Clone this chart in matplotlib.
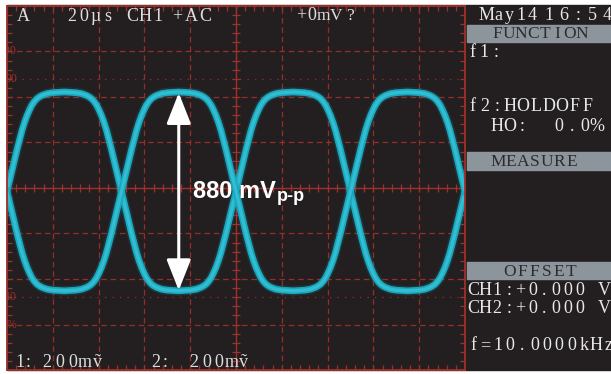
import numpy as np
import matplotlib.pyplot as plt
from matplotlib.patches import Rectangle

W, H = 611, 374

# screen scale: 20 us/div (10 div), 200 mV/div (8 div)
t_span_us = (0, 200)
v_span_mv = (-800, 800)

# one 50 us half cycle of the waveform
lobe_t = [0, 2.2, 4.4, 6.6, 7.7, 8.8, 9.9, 10.9, 12, 13.1, 14.2, 15.3,
          17.5, 20, 25, 30, 32.5, 34.7, 35.8, 36.9, 38, 39.1, 40.1,
          41.2, 42.3, 43.4, 45.6, 47.8, 50]
up_v = [-15, 77, 170, 255, 290, 320, 345, 365, 381, 393, 401, 407,
        415, 419, 422, 419, 415, 407, 401, 393, 381, 365, 345,
        320, 290, 255, 170, 77, -15]
down_v = [-15, -107, -200, -285, -320, -350, -375, -395, -411, -423, -431, -437,
          -445, -449, -452, -449, -445, -437, -431, -423, -411, -395, -375,
          -350, -320, -285, -200, -107, -15]
lobe_len_us = 50
trace_a = ['up', 'down', 'up', 'down']
trace_b = ['down', 'up', 'down', 'up']

vpp_at_us = 75
vpp_top, vpp_bottom = 418, -450

grid_t = [20, 40, 60, 80, 120, 140, 160, 180]
grid_v = [-600, -400, -200, 200, 400, 600]
level_v = [-480, 480]
level_labels = [('100', 600), ('90', 480), ('10', -480), ('0%', -600)]

RED = '#a0302a'
BG = '#231f20'
CYAN = '#17a8bf'
SERIF = ['Liberation Serif', 'DejaVu Serif']


def build(pattern):
    ts, vs = [], []
    for k, kind in enumerate(pattern):
        ts.extend(np.array(lobe_t) + k * lobe_len_us)
        vs.extend(up_v if kind == 'up' else down_v)
    return ts, vs


def spaced(ax, x0, y, s, pitch, size=13, color='#e8e8e8'):
    # bitmap-like fixed pitch lettering
    for i, ch in enumerate(s):
        if ch != ' ':
            ax.text(x0 + i * pitch, y, ch, ha='center', va='baseline',
                    fontsize=size, family=SERIF, color=color)


fig = plt.figure(figsize=(W / 100, H / 100), dpi=100)
fig.patch.set_facecolor('white')
fig.add_artist(Rectangle((7 / W, 1 - 370 / H), 604 / W, 365 / H,
                         transform=fig.transFigure, color=BG, zorder=-1))

# oscilloscope screen
ax = fig.add_axes([7 / W, 1 - 370 / H, 458 / W, 364 / H])
ax.set_facecolor('none')
ax.set_xlim(*t_span_us)
ax.set_ylim(*v_span_mv)
for sp in ax.spines.values():
    sp.set_color(RED)
    sp.set_linewidth(1.3)
ax.set_xticks([])
ax.set_yticks([])
ax.set_xticks(np.arange(4, 200, 4), minor=True)
ax.set_yticks(np.arange(-760, 800, 40), minor=True)
ax.tick_params(which='minor', direction='in', length=3.5, width=0.9,
               color=RED, top=True, right=True)

for t in grid_t:
    ax.axvline(t, color=RED, lw=0.9, ls=(0, (4.5, 3)), alpha=0.9)
for v in grid_v:
    ax.axhline(v, color=RED, lw=0.9, ls=(0, (4.5, 3)), alpha=0.9)
for v in level_v:
    ax.axhline(v, color=RED, lw=0.9, ls=(0, (1, 5)), alpha=0.9)
ax.axhline(0, color=RED, lw=1.0)
ax.axvline(100, color=RED, lw=1.0)
ax.plot(np.arange(0, 201, 4), np.zeros(51), ls='none', marker='|',
        ms=6, mew=0.9, color=RED)
ax.plot(np.full(41, 100), np.arange(-800, 801, 40), ls='none', marker='_',
        ms=6, mew=0.9, color=RED)
for txt, v in level_labels:
    ax.text(4.4, v, txt, ha='right', va='center', fontsize=8.5,
            family=SERIF, color=RED, clip_on=True)

for pattern in (trace_a, trace_b):
    ts, vs = build(pattern)
    ax.plot(ts, vs, color=CYAN, lw=7, alpha=0.15, solid_joinstyle='round')
    ax.plot(ts, vs, color=CYAN, lw=4.8, solid_joinstyle='round')
    ax.plot(ts, vs, color='#32bdd0', lw=2.4, solid_joinstyle='round')

ax.annotate('', xy=(vpp_at_us, vpp_top), xytext=(vpp_at_us, vpp_bottom),
            arrowprops=dict(arrowstyle='<|-|>,head_length=1.9,head_width=0.75',
                            color='white', lw=2.2, shrinkA=0, shrinkB=0))
ax.text(81.4, -44, '880 mV', fontsize=17, fontweight='bold',
        family='Liberation Sans', color='white', ha='left', va='baseline')
ax.text(117.7, -55, 'p-p', fontsize=13, fontweight='bold',
        family='Liberation Sans', color='white', ha='left', va='baseline')

# text overlay in pixel coordinates
ov = fig.add_axes([0, 0, 1, 1], zorder=3)
ov.set_xlim(0, W)
ov.set_ylim(H, 0)
ov.axis('off')
ov.patch.set_alpha(0)

screen_txt = '#dedede'
spaced(ov, 23, 21, 'A', 12, color=screen_txt)
spaced(ov, 72, 21, '20µs', 12, color=screen_txt)
spaced(ov, 132, 21, 'CH1', 13, color=screen_txt)
spaced(ov, 177, 21, '+AC', 14, color=screen_txt)
spaced(ov, 301, 20, '+0', 11, color=screen_txt)
spaced(ov, 323, 20, 'mV?', 13.5, size=12.5, color=screen_txt)
spaced(ov, 20, 367, '1', 8, color=screen_txt)
spaced(ov, 28, 367, ':', 8, color=screen_txt)
spaced(ov, 47, 367, '200mṽ', 12.7, color=screen_txt)
spaced(ov, 156, 367, '2', 9, color=screen_txt)
spaced(ov, 165, 367, ':', 9, color=screen_txt)
spaced(ov, 194, 367, '200mṽ', 12.5, color=screen_txt)

for y0, y1 in ((25, 42), (152, 170), (262, 279)):
    ov.add_patch(Rectangle((467, y0), 144, y1 - y0, color='#8c959b'))

spaced(ov, 487, 20, 'May14', 11.3)
spaced(ov, 549, 20, '16:54', 14.5)
spaced(ov, 497, 38, 'FUNCTION', 12.1, size=12.5, color='#2e2b2c')
spaced(ov, 472, 57, 'f1:', 12)
spaced(ov, 472, 111, 'f2:HOLDOFF', 12.8)
spaced(ov, 497, 131, 'HO:', 12.5)
spaced(ov, 559, 131, '0.0%', 12.7)
spaced(ov, 498, 166, 'MEASURE', 12.3, size=12.5, color='#2e2b2c')
spaced(ov, 510, 276, 'OFFSET', 12.2, size=12.5, color='#2e2b2c')
spaced(ov, 473, 295, 'CH1:+0.000 V', 11.9)
spaced(ov, 473, 313, 'CH2:+0.000 V', 11.9)
spaced(ov, 473, 350, 'f=10.0000kHz', 12.3)

fig.savefig('out.png', dpi=100)
